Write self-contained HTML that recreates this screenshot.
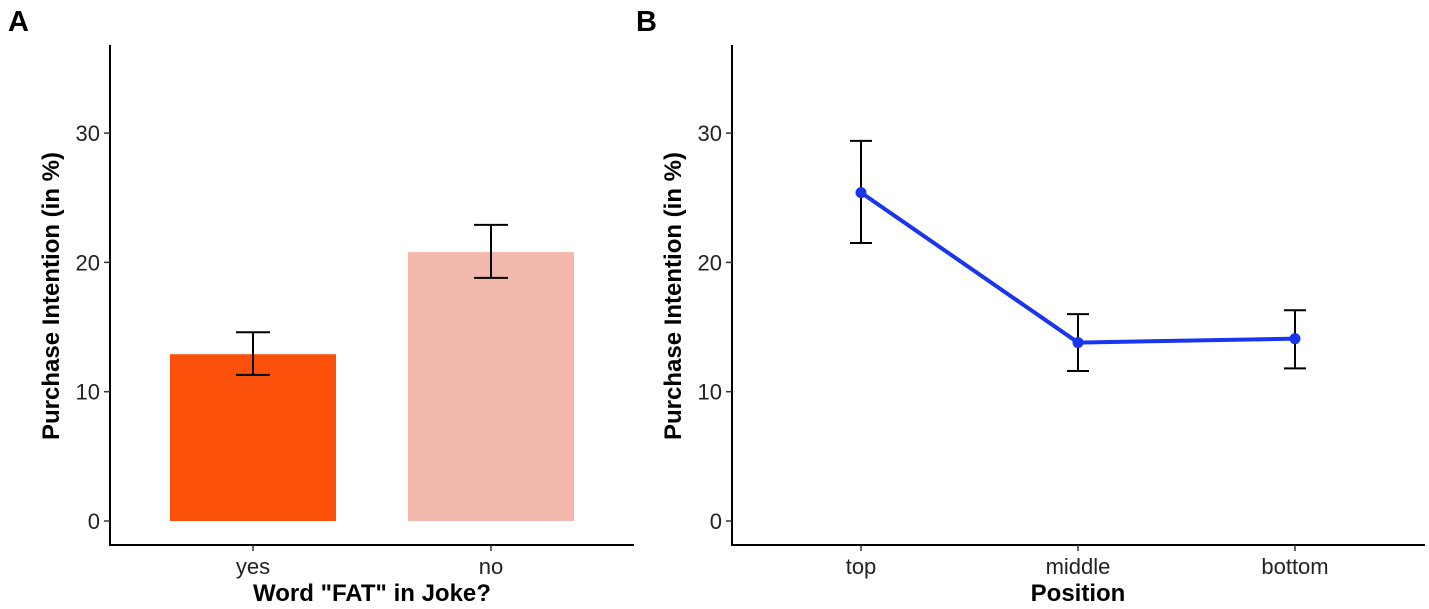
<!DOCTYPE html>
<html><head><meta charset="utf-8"><style>
body{margin:0;background:#fff;}
svg{display:block;font-family:"Liberation Sans",Arial,sans-serif;}
</style></head><body>
<svg id="c" width="1429" height="609" xmlns="http://www.w3.org/2000/svg"></svg>
<script>
const barCats=["yes","no"];
const barVals=[12.9,20.8];
const barLo=[11.3,18.8];
const barHi=[14.6,22.9];
const barColors=["#fc510b","#f3b9ad"];
const lineCats=["top","middle","bottom"];
const lineVals=[25.4,13.8,14.1];
const lineLo=[21.5,11.6,11.8];
const lineHi=[29.4,16.0,16.3];
const yTicks=[0,10,20,30];

const NS="http://www.w3.org/2000/svg";
const svg=document.getElementById('c');
function el(t,a,txt){const e=document.createElementNS(NS,t);for(const k in a)e.setAttribute(k,a[k]);if(txt!=null)e.textContent=txt;svg.appendChild(e);return e;}
const y=v=>521-v*12.93;

function axes(x0,x1,title,xtitle,xtitleX,panel,px){
  let e=el('text',{x:px,y:31,'font-size':29,'font-weight':'bold'},panel);
  
  
  e=el('line',{x1:x0,y1:45,x2:x0,y2:545,stroke:'#000','stroke-width':2});
  
  
  e=el('line',{x1:x0-1,y1:545,x2:x1,y2:545,stroke:'#000','stroke-width':2});
  
  
  yTicks.forEach(t=>{
    el('line',{x1:x0-6,y1:y(t),x2:x0,y2:y(t),stroke:'#333','stroke-width':1.5});
    e=el('text',{x:x0-10,y:y(t)+8,'font-size':22,'text-anchor':'end',fill:'#222'},t);
    
    
  });
  e=el('text',{x:0,y:0,'font-size':24,'font-weight':'bold','text-anchor':'middle',transform:`translate(${x0-51},296) rotate(-90)`},title);
  
  
  e=el('text',{x:xtitleX,y:601,'font-size':24,'font-weight':'bold','text-anchor':'middle'},xtitle);
  
  
}
function xtick(x,label){
  el('line',{x1:x,y1:545,x2:x,y2:551,stroke:'#333','stroke-width':1.5});
  const e=el('text',{x:x,y:574,'font-size':22,'text-anchor':'middle',fill:'#222'},label);
  
  
}
function errbar(x,lo,hi,w){
  const g=[[x,y(lo),x,y(hi)],[x-w,y(lo),x+w,y(lo)],[x-w,y(hi),x+w,y(hi)]];
  g.forEach(p=>{const e=el('line',{x1:p[0],y1:p[1],x2:p[2],y2:p[3],stroke:'#000','stroke-width':2});
    
    });
}
// Panel A
axes(110,634,'Purchase Intention (in %)','Word "FAT" in Joke?',372,'A',8);
const ax=i=>253+i*238;
barCats.forEach((c,i)=>{
  const e=el('rect',{x:ax(i)-83,y:y(barVals[i]),width:166,height:y(0)-y(barVals[i]),fill:barColors[i]});
  
  
  errbar(ax(i),barLo[i],barHi[i],17);
  xtick(ax(i),c);
});
// Panel B
axes(732,1425,'Purchase Intention (in %)','Position',1078,'B',636);
const bx=i=>861+i*217;
const pl=el('polyline',{points:lineVals.map((v,i)=>bx(i)+','+y(v)).join(' '),fill:'none',stroke:'#1a35f0','stroke-width':4});


lineCats.forEach((c,i)=>{
  errbar(bx(i),lineLo[i],lineHi[i],11);
  const e=el('circle',{cx:bx(i),cy:y(lineVals[i]),r:5.5,fill:'#1a35f0'});
  
  
  xtick(bx(i),c);
});
</script>
</body></html>
